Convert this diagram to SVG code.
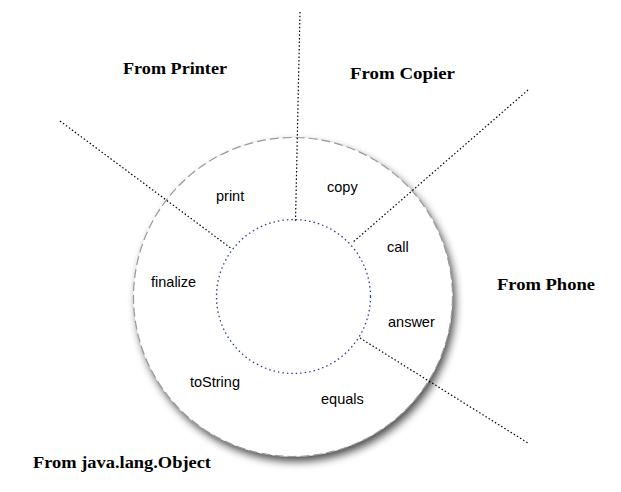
<svg xmlns="http://www.w3.org/2000/svg" width="621" height="492" viewBox="0 0 621 492">
<style>
.grp{font-family:"Liberation Serif","Times New Roman",serif;font-weight:bold;font-size:17.5px;fill:#000}
.m{font-family:"Liberation Sans",Arial,sans-serif;font-size:14.5px;fill:#000}
.div{stroke:#000;stroke-width:1.2;stroke-dasharray:1.5 2.2;fill:none}
</style>
<defs>
<filter id="sh" x="-20%" y="-20%" width="140%" height="140%">
<feGaussianBlur in="SourceAlpha" stdDeviation="4"/>
<feOffset dx="3" dy="5" result="b"/>
<feComponentTransfer><feFuncA type="linear" slope="0.7"/></feComponentTransfer>
<feMerge><feMergeNode/><feMergeNode in="SourceGraphic"/></feMerge>
</filter>
</defs>
<rect width="621" height="492" fill="#fff"/>
<g id="outer">
<circle cx="293" cy="297" r="159.5" fill="#fff" filter="url(#sh)"/>
<circle cx="293" cy="297" r="159.5" fill="none" stroke="#999" stroke-width="1.2" stroke-dasharray="9 4"/>
</g>
<g id="connectors">
<line class="div" x1="300" y1="12" x2="295.5" y2="221"/>
<line class="div" x1="60" y1="121" x2="232" y2="249"/>
<line class="div" x1="528" y1="90" x2="352" y2="243"/>
<line class="div" x1="360" y1="338" x2="528" y2="443"/>
</g>
<g id="inner">
<circle cx="293.5" cy="296.5" r="77" fill="none" stroke="#2a3a9a" stroke-width="1.3" stroke-dasharray="1.5 3"/>
</g>
<g id="groups">
<text class="grp" x="123" y="74" textLength="104" lengthAdjust="spacingAndGlyphs">From Printer</text>
<text class="grp" x="350" y="79" textLength="105" lengthAdjust="spacingAndGlyphs">From Copier</text>
<text class="grp" x="497" y="290" textLength="98" lengthAdjust="spacingAndGlyphs">From Phone</text>
<text class="grp" x="33" y="468" textLength="178" lengthAdjust="spacingAndGlyphs">From java.lang.Object</text>
</g>
<g id="methods">
<text class="m" x="216" y="201">print</text>
<text class="m" x="327" y="192">copy</text>
<text class="m" x="387" y="252">call</text>
<text class="m" x="151" y="287">finalize</text>
<text class="m" x="388" y="327">answer</text>
<text class="m" x="190" y="387">toString</text>
<text class="m" x="321" y="404">equals</text>
</g>
</svg>
